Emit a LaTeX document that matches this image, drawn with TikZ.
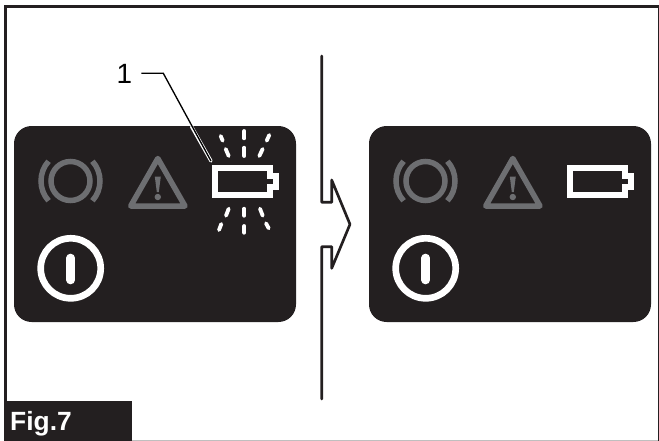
\documentclass[tikz,border=0pt]{standalone}
\usepackage{fontspec}
\setmainfont{Liberation Sans}
\definecolor{panelblack}{HTML}{231F20}
\definecolor{icongrey}{HTML}{6D6E71}
\tikzset{
  panel/.style={fill=panelblack, rounded corners=15},
  greyicon/.style={icongrey, line width=1.65mm},
  whiteicon/.style={white, line width=1.7mm},
  ray/.style={white, line width=1.15mm, line cap=round},
  outline/.style={panelblack, line width=.8mm, line join=round, line cap=round},
}
\begin{document}
\begin{tikzpicture} [x=.03cm,y=-.03cm]
\useasboundingbox (0,0) rectangle (659,441);
% frame
\draw[panelblack, line width=.95mm] (5.5,441)--(5.5,6.5)--(659,6.5);
\draw[panelblack, line width=.3mm] (658.5,6.5)--(658.5,441);
\draw[black!25, line width=.25mm] (132,440.4)--(658,440.4);
\node[fill=panelblack, minimum width=128*.03cm, minimum height=40*.03cm, inner sep=0, anchor=north west] (figbox) at (4,401) {};
\node[white, font=\bfseries\fontsize{22.5}{24}\selectfont, anchor=base west, inner sep=0] (figlabel) at (10,430) {Fig.7};
% both panels
\foreach \x in {0,355} {
 \begin{scope}[shift={(\x,0)}]
 \fill[panel] (14,126) rectangle (296,322);
 % brake
 \draw[greyicon] (70.5,181) circle (19.5);
 \draw[greyicon] (70.5,181) ++(138:29.5) arc (138:222:29.5);
 \draw[greyicon] (70.5,181) ++(42:29.5) arc (42:-42:29.5);
 % warning
 \draw[greyicon, line join=round] (157.8,158.5)--(185,206)--(130.7,206)--cycle;
 \fill[icongrey] (154.8,176.5)--(160.8,176.5)--(158.8,192)--(156.8,192)--cycle;
 \fill[icongrey] (157.8,197) circle (3.2);
 % battery
 \draw[whiteicon, miter limit=4] (215.3,167.7)--(269.7,167.7)--(269.7,175.7)--(275.7,175.7)--(275.7,187.3)--(269.7,187.3)--(269.7,195.3)--(215.3,195.3)--cycle;
 % power
 \draw[white, line width=2mm] (70.7,268.3) circle (30);
 \draw[white, line width=2.6mm, line cap=round] (70.7,258)--(70.7,280);
 \end{scope}
}
% flashing
\foreach \a/\b/\c/\d in {220.7/136/222.7/140.7, 244.3/131/244.3/138.3, 269.3/135/266.7/140.7,
 225.7/149/228.7/156, 244.3/147.7/244.3/156, 262.7/149/259.3/156,
 228.7/208.7/226/215.7, 244.3/208.7/244.3/215.7, 260/208.7/262.7/215.7,
 221.3/224/219/230, 244.3/226/244.3/232.7, 266/223.3/268.7/228.3} {
 \draw[ray] (\a,\b)--(\c,\d);
}
% arrow
\draw[outline] (321.7,56)--(321.7,202.3)--(331.7,202.3)--(331.7,180)--(350,224.3)--(331.7,268.3)--(331.7,246.7)--(321.7,246.7)--(321.7,399);
% callout
\node[font=\fontsize{23.8}{26}\selectfont, anchor=base, inner sep=0] (one) at (124.5,83) {1};
\coordinate (battery) at (211,161);
\coordinate (paneledge) at (191.5,126.5);
\draw[white, line width=1mm, line cap=round] (paneledge)--(battery);
\draw[black, line width=.4mm] (one.east |- 0,73.3) ++(9,0)--(163.3,73.3)--(battery);
\end{tikzpicture}
\end{document}
